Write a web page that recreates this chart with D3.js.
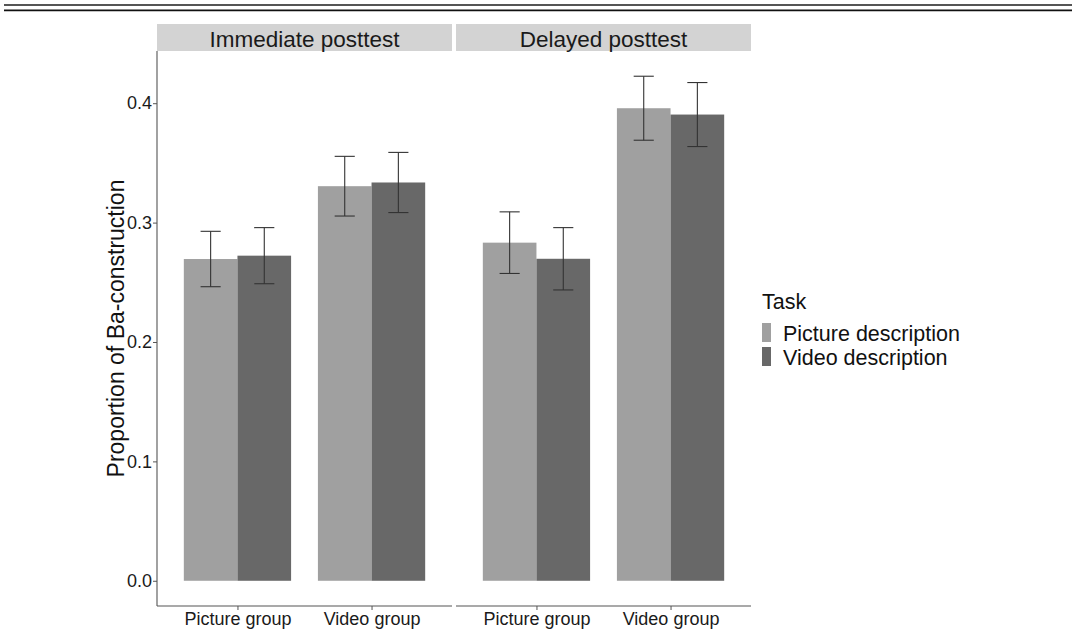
<!DOCTYPE html>
<html>
<head>
<meta charset="utf-8">
<script src="https://cdn.jsdelivr.net/npm/d3@7"></script>
<style>
  html, body { margin: 0; padding: 0; background: #fff; }
  svg { display: block; font-family: "Liberation Sans", Arial, sans-serif; }
</style>
</head>
<body>
<svg id="chart" width="1074" height="636"></svg>
<script>
// Facets, groups and task series
const phases = ["Immediate posttest", "Delayed posttest"];
const groups = ["Picture group", "Video group"];
const tasks = ["Picture description", "Video description"];

// Mean proportion of Ba-construction, [phase][group][task]
const immediateMeans = [[0.2695, 0.2723], [0.3305, 0.3336]];
const delayedMeans   = [[0.2832, 0.2697], [0.3958, 0.3905]];
// Half-width of the error bars, [phase][group][task]
const immediateErr = [[0.0232, 0.0235], [0.0250, 0.0252]];
const delayedErr   = [[0.0258, 0.0261], [0.0268, 0.0268]];

const yTicks = [0.0, 0.1, 0.2, 0.3, 0.4];
const taskColors = ["#a0a0a0", "#686868"];

const meansByPhase = [immediateMeans, delayedMeans];
const errByPhase = [immediateErr, delayedErr];

const rows = [];
phases.forEach((p, pi) => groups.forEach((g, gi) => tasks.forEach((t, ti) => {
  rows.push({ phase: p, group: g, task: t,
              mean: meansByPhase[pi][gi][ti], err: errByPhase[pi][gi][ti] });
})));

const svg = d3.select("#chart");

// Rules across the top of the figure
svg.append("line").attr("x1", 4).attr("x2", 1072).attr("y1", 5).attr("y2", 5)
  .attr("stroke", "#555").attr("stroke-width", 2);
svg.append("line").attr("x1", 4).attr("x2", 1072).attr("y1", 10.4).attr("y2", 10.4)
  .attr("stroke", "#111").attr("stroke-width", 1.6);

// Panel geometry
const panelTop = 51, panelBottom = 606;
const panelW = 295, panelGap = 4, firstLeft = 157;
const stripTop = 24;

// y scale with 5% expansion around data range (0 .. max upper error)
const yMax = d3.max(rows, d => d.mean + d.err);
const pad = 0.05 * yMax;
const y = d3.scaleLinear().domain([-pad, yMax + pad]).range([panelBottom, panelTop]);

phases.forEach((phase, pi) => {
  const left = firstLeft + pi * (panelW + panelGap);
  const g = svg.append("g").attr("transform", `translate(${left},0)`);

  const x = d3.scalePoint().domain(groups).range([0, panelW]).padding(0.6);
  const step = x.step();
  const xTask = d3.scaleBand().domain(tasks).range([-0.4 * step, 0.4 * step]);

  // strip header
  g.append("rect").attr("x", 0).attr("y", stripTop).attr("width", panelW)
    .attr("height", panelTop - stripTop).attr("fill", "#d3d3d3");
  g.append("text").attr("x", panelW / 2).attr("y", 46.5)
    .attr("text-anchor", "middle").attr("font-size", 22.5).attr("fill", "#1a1a1a")
    .text(phase);

  const data = rows.filter(r => r.phase === phase);

  // bars
  g.selectAll("rect.bar").data(data).enter().append("rect").attr("class", "bar")
    .attr("x", d => x(d.group) + xTask(d.task))
    .attr("width", xTask.bandwidth())
    .attr("y", d => y(d.mean))
    .attr("height", d => y(0) - y(d.mean))
    .attr("fill", d => taskColors[tasks.indexOf(d.task)]);

  // error bars
  const capHalf = 0.075 * step;
  const eb = g.selectAll("g.err").data(data).enter().append("g").attr("class", "err")
    .attr("stroke", "#333").attr("stroke-width", 1.1);
  const cx = d => x(d.group) + xTask(d.task) + xTask.bandwidth() / 2;
  eb.append("line").attr("x1", cx).attr("x2", cx)
    .attr("y1", d => y(d.mean + d.err)).attr("y2", d => y(d.mean - d.err));
  eb.append("line").attr("x1", d => cx(d) - capHalf).attr("x2", d => cx(d) + capHalf)
    .attr("y1", d => y(d.mean + d.err)).attr("y2", d => y(d.mean + d.err));
  eb.append("line").attr("x1", d => cx(d) - capHalf).attr("x2", d => cx(d) + capHalf)
    .attr("y1", d => y(d.mean - d.err)).attr("y2", d => y(d.mean - d.err));

  // x axis
  const xAxis = g.append("g").attr("transform", `translate(0,${panelBottom})`)
    .call(d3.axisBottom(x).tickSize(4).tickPadding(2).tickSizeOuter(0));
  xAxis.select(".domain").attr("stroke", "#555").attr("stroke-width", 1.1)
    .attr("d", `M0,0H${panelW}`);
  xAxis.selectAll(".tick line").attr("stroke", "#555");
  xAxis.selectAll(".tick text").attr("font-size", 18).attr("fill", "#1a1a1a")
    .attr("font-family", "Liberation Sans, Arial, sans-serif");

  // y axis on first panel only
  if (pi === 0) {
    const yAxis = g.append("g")
      .call(d3.axisLeft(y).tickValues(yTicks).tickFormat(d3.format(".1f"))
        .tickSize(4).tickPadding(1).tickSizeOuter(0));
    yAxis.select(".domain").attr("stroke", "#555").attr("stroke-width", 1.1)
      .attr("d", `M0,${panelBottom}V${panelTop}`);
    yAxis.selectAll(".tick line").attr("stroke", "#555");
    yAxis.selectAll(".tick text").attr("font-size", 18).attr("fill", "#1a1a1a")
      .attr("font-family", "Liberation Sans, Arial, sans-serif");
  }
});

// y axis title
svg.append("text")
  .attr("transform", `translate(124,${(panelTop + panelBottom) / 2}) rotate(-90)`)
  .attr("text-anchor", "middle").attr("font-size", 23).attr("fill", "#111")
  .text("Proportion of Ba-construction");

// legend
const legend = svg.append("g").attr("transform", "translate(762,0)");
legend.append("text").attr("x", 0).attr("y", 309).attr("font-size", 21.5).attr("fill", "#111")
  .text("Task");
const keyStep = 24;
tasks.forEach((t, i) => {
  legend.append("rect").attr("x", 0).attr("y", 323 + i * keyStep)
    .attr("width", 9).attr("height", 19).attr("fill", taskColors[i]);
  legend.append("text").attr("x", 21).attr("y", 341 + i * keyStep)
    .attr("font-size", 21.5).attr("fill", "#111").text(t);
});
</script>
</body>
</html>
